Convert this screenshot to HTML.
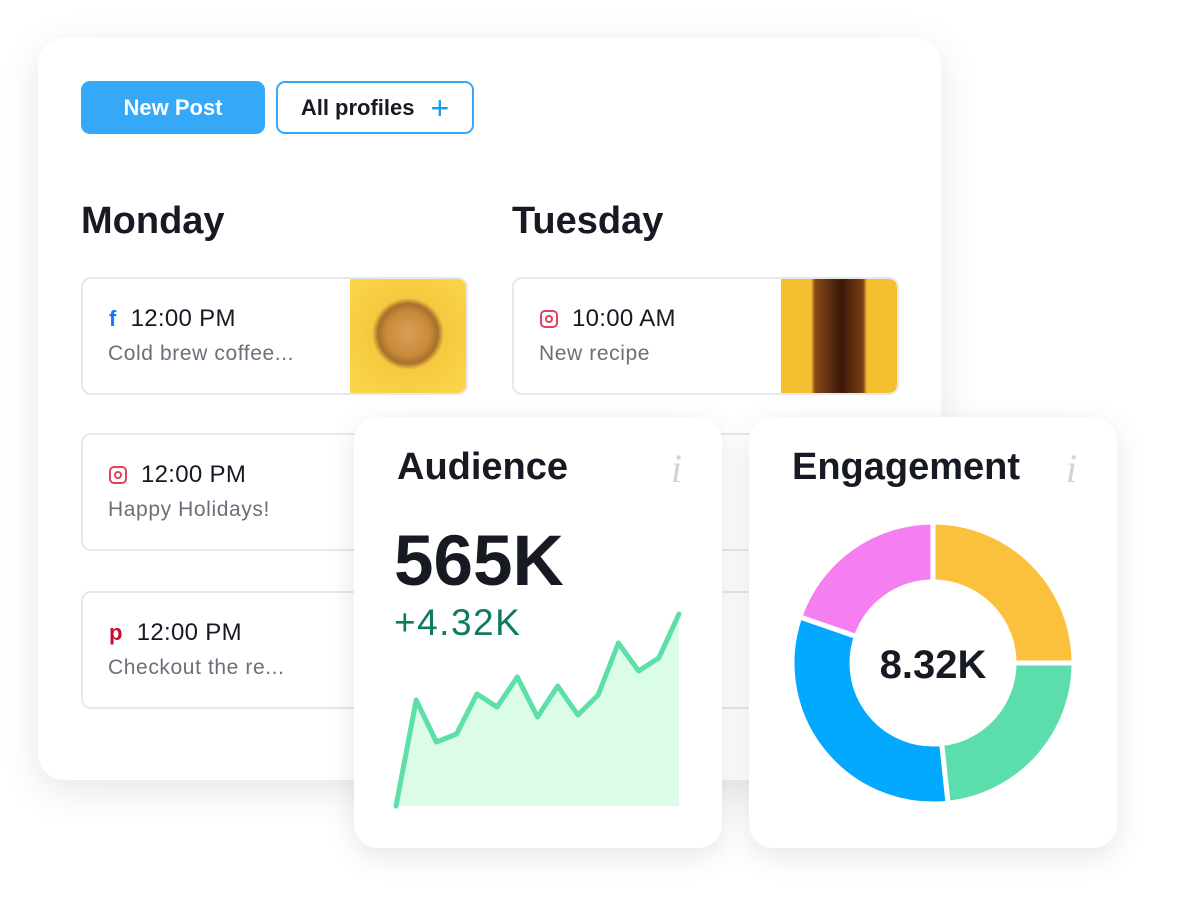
<!DOCTYPE html>
<html><head><meta charset="utf-8">
<style>
*{box-sizing:border-box;margin:0;padding:0}
body{width:1177px;height:907px;background:#fff;position:relative;overflow:hidden;font-family:"Liberation Sans",sans-serif;color:#171a23}
.abs{position:absolute}
.main{left:38px;top:38px;width:903px;height:742px;background:#fff;border-radius:26px;box-shadow:0 10px 40px rgba(0,0,0,0.10)}
.btn{top:81px;height:53px;border-radius:9px;font-size:22px;font-weight:bold;display:flex;align-items:center;justify-content:center}
.day{font-size:38px;font-weight:bold;top:200px}
.post{width:387px;height:118px;background:#fff;border:2px solid #e7e8ec;border-radius:10px;overflow:hidden}
.post .t{position:absolute;left:26px;top:26px;font-size:24px;color:#171a23;display:flex;align-items:center;gap:14px;letter-spacing:0.3px}
.post .d{position:absolute;left:25px;top:63px;font-size:21px;color:#6b6f7a;letter-spacing:0.6px}
.post .img{position:absolute;right:0;top:0;width:116px;height:100%}
.card{width:368px;height:431px;top:417px;background:#fff;border-radius:24px;box-shadow:0 8px 30px rgba(0,0,0,0.10)}
.card .h{position:absolute;left:43px;top:29px;font-size:38px;font-weight:bold}
.card .i{position:absolute;right:40px;top:28px;font-family:"Liberation Serif",serif;font-style:italic;font-size:40px;color:#d0d3da}
</style></head><body>
<div class="abs main"></div>
<div class="abs btn" style="left:81px;width:184px;background:#35a8f8;color:#fff">New Post</div>
<div class="abs btn" style="left:276px;width:198px;border:2.5px solid #35a8f8;color:#171a23;gap:16px">All profiles <span style="color:#1a9af5;font-size:32px;font-weight:normal;line-height:1">+</span></div>
<div class="abs day" style="left:81px">Monday</div>
<div class="abs day" style="left:512px">Tuesday</div>

<div class="abs post" style="left:81px;top:277px">
 <div class="t"><span style="color:#1877f2;font-weight:bold;font-size:22px">f</span>12:00 PM</div>
 <div class="d">Cold brew coffee...</div>
 <div class="img" style="background:radial-gradient(circle at 50% 48%,#d9a05a 0,#c98a3a 22px,#a8702c 30px,#f6c93f 36px,#fbd648 80px)"></div>
</div>
<div class="abs post" style="left:512px;top:277px">
 <div class="t"><span style="display:inline-block;width:18px;height:18px;border:2px solid #e4405f;border-radius:5px;position:relative"><span style="position:absolute;left:3px;top:3px;width:8px;height:8px;border:2px solid #e4405f;border-radius:50%"></span></span>10:00 AM</div>
 <div class="d">New recipe</div>
 <div class="img" style="background:linear-gradient(90deg,#f4c02f 0,#f4c02f 30px,#8a4a18 34px,#3a1808 60px,#7a3f14 82px,#f4c02f 86px)"></div>
</div>
<div class="abs post" style="left:81px;top:433px">
 <div class="t"><span style="display:inline-block;width:18px;height:18px;border:2px solid #e4405f;border-radius:5px;position:relative"><span style="position:absolute;left:3px;top:3px;width:8px;height:8px;border:2px solid #e4405f;border-radius:50%"></span></span>12:00 PM</div>
 <div class="d">Happy Holidays!</div>
</div>
<div class="abs post" style="left:81px;top:591px">
 <div class="t"><span style="color:#c8102e;font-weight:bold;font-size:22px">p</span>12:00 PM</div>
 <div class="d">Checkout the re...</div>
</div>
<div class="abs post" style="left:512px;top:433px"></div>
<div class="abs post" style="left:512px;top:591px"></div>

<div class="abs card" style="left:354px">
 <div class="h">Audience</div>
 <div class="i">i</div>
 <div class="abs" style="left:40px;top:104px;font-size:71px;font-weight:bold">565K</div>
 <div class="abs" style="left:40px;top:185px;font-size:37px;letter-spacing:1.5px;color:#0e7a60">+4.32K</div>
</div>
<div class="abs card" style="left:749px">
 <div class="h">Engagement</div>
 <div class="i">i</div>
</div>
<svg class="abs" style="left:0;top:0" width="1177" height="907">
 <g id="line"></g><g id="donut"></g>
 <text x="933" y="678" text-anchor="middle" font-size="40" font-weight="bold" fill="#171a23" font-family="Liberation Sans, sans-serif">8.32K</text>
</svg>
<script>
const audienceValues=[0,53,32,36,56,49.5,64.5,44.5,60,45.5,55.5,81.5,67.5,74,96];
const engagementShares=[25,23.3,32,19.7];
const engagementColors=['#fcc13c','#5bdeab','#03a9fe','#f57ff0'];
const NS='http://www.w3.org/2000/svg';
const x0=396,x1=679,yb=806,yScale=2;
const xs=i=>x0+i*(x1-x0)/(audienceValues.length-1);
const ys=v=>yb-v*yScale;
const pts=audienceValues.map((v,i)=>xs(i).toFixed(1)+','+ys(v).toFixed(1));
const g=document.getElementById('line');
const area=document.createElementNS(NS,'path');
area.setAttribute('d','M'+pts.join(' L')+' L'+xs(audienceValues.length-1)+','+yb+' L'+x0+','+yb+'Z');
area.setAttribute('fill','#dbfce9');


g.appendChild(area);
const line=document.createElementNS(NS,'path');
line.setAttribute('d','M'+pts.join(' L'));
line.setAttribute('fill','none');line.setAttribute('stroke','#5ddfa8');line.setAttribute('stroke-width','5');line.setAttribute('stroke-linejoin','round');line.setAttribute('stroke-linecap','round');


g.appendChild(line);
const cx=933,cy=663,R=141,r=81;
const tot=engagementShares.reduce((a,b)=>a+b,0);
let a=0;const dg=document.getElementById('donut');
const P=(ang,rad)=>[cx+rad*Math.sin(ang),cy-rad*Math.cos(ang)];
engagementShares.forEach((s,i)=>{
 const a0=a,a1=a+s/tot*2*Math.PI;a=a1;
 const lg=(a1-a0)>Math.PI?1:0;
 const p0=P(a0,R),p1=P(a1,R),q1=P(a1,r),q0=P(a0,r);
 const p=document.createElementNS(NS,'path');
 p.setAttribute('d',`M${p0} A${R},${R} 0 ${lg} 1 ${p1} L${q1} A${r},${r} 0 ${lg} 0 ${q0}Z`);
 p.setAttribute('fill',engagementColors[i]);p.setAttribute('stroke','#fff');p.setAttribute('stroke-width','5');
 
 
 dg.appendChild(p);
});
</script>
</body></html>
